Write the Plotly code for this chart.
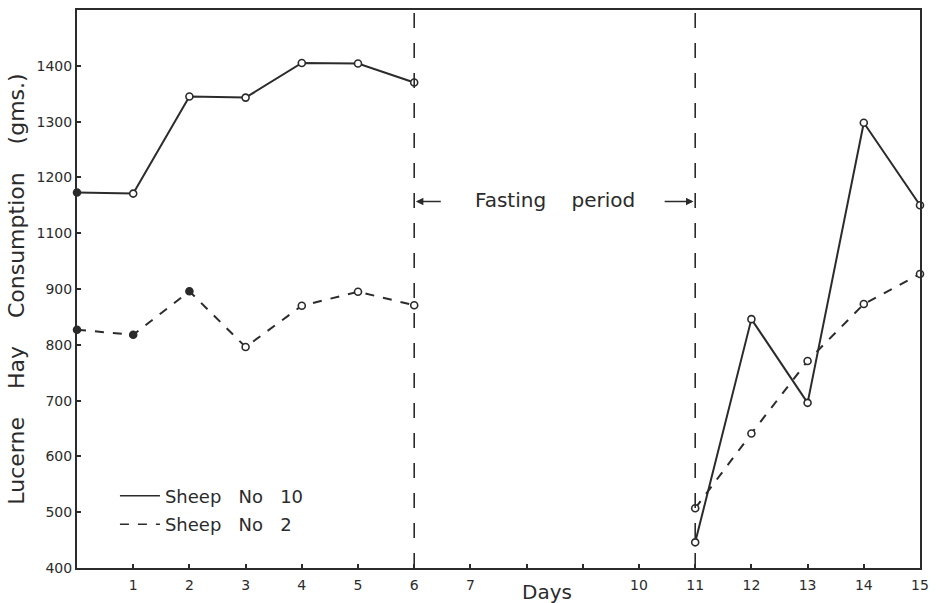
import plotly.graph_objects as go

# Days (gap between 6 and 11 = fasting period)
days = [0, 1, 2, 3, 4, 5, 6, None, 11, 12, 13, 14, 15]
# Values in the chart's linear axis units (the printed y labels skip "1000",
# so labels above 900 read 100 higher than the axis position)
sheep10 = [1073, 1071, 1245, 1243, 1305, 1304, 1270, None, 446, 846, 696, 1198, 1050]
sheep2 = [827, 818, 896, 796, 870, 895, 871, None, 507, 641, 771, 873, 927]
sheep10_filled = [True, False, False, False, False, False, False, False, False, False, False, False, False]
sheep2_filled = [True, True, True, False, False, False, False, False, False, False, False, False, False]

x_tickvals = list(range(1, 16))
x_ticktext = ["1", "2", "3", "4", "5", "6", "7", "", "", "10", "11", "12", "13", "14", "15"]
y_tickvals = [400, 500, 600, 700, 800, 900, 1000, 1100, 1200, 1300]
y_ticktext = ["400", "500", "600", "700", "800", "900", "1100", "1200", "1300", "1400"]

INK = "#2b2b2b"
FONT = "DejaVu Sans"

fig = go.Figure()

def add_series(y, filled, dash, name, group):
    fig.add_trace(go.Scatter(
        x=days, y=y, mode="lines+markers", showlegend=False, name=name,
        line=dict(color=INK, width=2, dash=dash),
        marker=dict(symbol="circle", size=7,
                    color=[INK if f else "white" for f in filled],
                    line=dict(color=INK, width=1.6)),
        connectgaps=False, cliponaxis=False,
    ))
    fig.add_trace(go.Scatter(
        x=[None], y=[None], mode="lines", name=name, showlegend=True,
        legendgroup=group,
        line=dict(color=INK, width=1.5, dash=dash),
    ))

add_series(sheep10, sheep10_filled, "solid", "Sheep   No   10", "a")
add_series(sheep2, sheep2_filled, "dash", "Sheep   No   2", "b")

for xv in (6, 11):
    fig.add_shape(type="line", x0=xv, x1=xv, y0=400, y1=1400, xref="x", yref="y",
                  line=dict(color=INK, width=1.6, dash="longdash"))

fig.add_annotation(x=8.5, y=1060, text="Fasting    period", showarrow=False,
                   font=dict(family=FONT, size=20, color=INK))
fig.add_annotation(x=6.03, y=1057, ax=6.5, ay=1057, xref="x", yref="y", axref="x", ayref="y",
                   text="", showarrow=True, arrowhead=2, arrowsize=1, arrowwidth=1.5, arrowcolor=INK)
fig.add_annotation(x=10.97, y=1057, ax=10.43, ay=1057, xref="x", yref="y", axref="x", ayref="y",
                   text="", showarrow=True, arrowhead=2, arrowsize=1, arrowwidth=1.5, arrowcolor=INK)
fig.add_annotation(x=8.37, y=-0.043, xref="x", yref="paper", text="Days", showarrow=False,
                   yanchor="middle", font=dict(family=FONT, size=20, color=INK))

fig.update_layout(
    width=937, height=603,
    margin=dict(l=77, r=11, t=8, b=35),
    paper_bgcolor="white", plot_bgcolor="white",
    font=dict(family=FONT, color=INK, size=14),
    legend=dict(x=0.045, y=0.162, xanchor="left", yanchor="top",
                bgcolor="rgba(0,0,0,0)", font=dict(family=FONT, size=18, color=INK),
                tracegroupgap=2, itemwidth=40),
    xaxis=dict(range=[0, 15], tickvals=x_tickvals, ticktext=x_ticktext,
               ticks="inside", ticklen=4, tickcolor=INK, tickwidth=1.5,
               showgrid=False, zeroline=False, showline=True, linecolor=INK,
               linewidth=2, mirror=True, tickfont=dict(size=14, color=INK),
               ticklabelstandoff=3),
    yaxis=dict(range=[400, 1400], tickvals=y_tickvals, ticktext=y_ticktext,
               ticks="inside", ticklen=4, tickcolor=INK, tickwidth=1.5,
               showgrid=False, zeroline=False, showline=True, linecolor=INK,
               linewidth=2, mirror=True, tickfont=dict(size=14, color=INK),
               title=dict(text="Lucerne    Hay    Consumption    (gms.)", standoff=6,
                          font=dict(size=22, color=INK))),
)

fig.write_html("out.html")
